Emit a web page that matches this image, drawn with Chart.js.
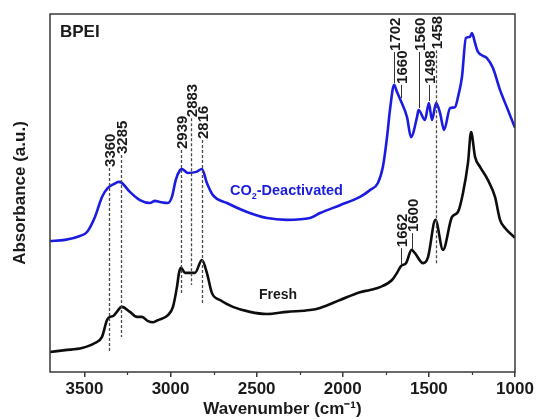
<!DOCTYPE html>
<html>
<head>
<meta charset="utf-8">
<script src="https://cdn.jsdelivr.net/npm/chart.js@4.4.1/dist/chart.umd.min.js"></script>
<style>
  html, body { margin: 0; padding: 0; background: #ffffff; }
  #wrap { width: 536px; height: 420px; }
</style>
</head>
<body>
<div id="wrap"><canvas id="ftir" width="536" height="420"></canvas></div>
<script>
// FTIR spectra of BPEI: fresh sorbent vs. CO2-deactivated sorbent (absorbance, arbitrary units)
const deactWn = [3700, 3613, 3526, 3485, 3439, 3398, 3364, 3330, 3300, 3285, 3236, 3178, 3120, 3090, 3062, 3015,
  2992, 2970, 2945, 2935, 2899, 2850, 2818, 2789, 2754, 2672, 2556, 2440, 2324, 2190, 2132, 2016, 1900, 1842,
  1796, 1767, 1743, 1726, 1702, 1685, 1660, 1627, 1604, 1569, 1560, 1523, 1500, 1482, 1458, 1435, 1412, 1377,
  1348, 1331, 1308, 1285, 1261, 1250, 1232, 1215, 1163, 1128, 1087, 1041, 1000];
const deactAbs = [36.6, 36.9, 38.0, 39.1, 43.3, 48.9, 51.4, 52.5, 53.1, 52.9, 50.3, 48.0, 47.2, 47.8, 47.5, 47.2,
  48.9, 53.6, 56.4, 56.7, 55.6, 55.9, 56.7, 52.8, 49.4, 47.2, 44.7, 43.0, 42.5, 43.0, 44.4, 46.6, 48.9, 50.8,
  52.8, 57.3, 65.6, 73.2, 80.2, 78.2, 75.4, 71.2, 65.6, 71.2, 73.2, 70.4, 75.1, 70.4, 75.1, 72.3, 67.6, 73.7,
  74.0, 76.8, 82.4, 93.3, 93.6, 94.7, 91.9, 89.4, 87.7, 84.9, 78.8, 73.2, 68.2];

const freshWn = [3700, 3613, 3514, 3439, 3398, 3369, 3352, 3335, 3282, 3236, 3195, 3166, 3131, 3100, 3073, 3015,
  2986, 2963, 2950, 2939, 2916, 2881, 2858, 2818, 2789, 2760, 2713, 2638, 2539, 2440, 2324, 2190, 2132, 2016,
  1900, 1842, 1784, 1714, 1685, 1662, 1633, 1600, 1581, 1534, 1505, 1462, 1418, 1366, 1331, 1302, 1273, 1255,
  1232, 1203, 1157, 1116, 1087, 1058, 1000];
const freshAbs = [5.6, 6.1, 6.7, 8.1, 9.8, 14.5, 15.4, 15.6, 18.2, 16.8, 15.4, 15.4, 14.2, 13.9, 14.5, 15.9,
  18.2, 23.7, 27.9, 29.1, 27.7, 27.7, 27.7, 31.3, 27.7, 22.1, 20.1, 18.2, 16.8, 16.2, 16.8, 17.3, 17.9, 20.1,
  22.3, 22.9, 23.7, 25.7, 27.7, 29.6, 30.4, 34.1, 33.2, 30.4, 32.1, 42.5, 34.1, 43.3, 44.7, 50.0, 58.4, 67.0,
  60.1, 57.3, 53.6, 48.9, 42.5, 40.2, 37.5];

// Band assignments marked on the spectra
const peakLabels = ['3360', '3285', '2939', '2883', '2816', '1458', '1702', '1660', '1560', '1498', '1662', '1600'];
const peakWn = [3360, 3285, 2939, 2883, 2816, 1458, 1702, 1660, 1560, 1498, 1662, 1600];

const xTickValues = [3500, 3000, 2500, 2000, 1500, 1000];
const xMinorTickValues = [3250, 2750, 2250, 1750, 1250];

// Leader geometry for each band marker (absorbance units), kept apart from the data
const peakLeaders = [
  { top: 57.0, bottom: 5.3, dashed: true },
  { top: 60.6, bottom: 9.8, dashed: true },
  { top: 62.0, bottom: 22.1, dashed: true },
  { top: 70.9, bottom: 24.3, dashed: true },
  { top: 64.8, bottom: 19.3, dashed: true },
  { top: 89.9, bottom: 30.4, dashed: true },
  { top: 89.4, bottom: 80.7, dashed: false },
  { top: 80.2, bottom: 76.5, dashed: false },
  { top: 89.4, bottom: 73.7, dashed: false },
  { top: 80.2, bottom: 75.7, dashed: false },
  { top: 34.6, bottom: 29.9, dashed: false },
  { top: 38.8, bottom: 34.4, dashed: false }
];

const BLUE = '#1c1ce0';
const INK = '#1a1a1a';
const FONT = "'Liberation Sans', Arial, Helvetica, sans-serif";

const toPoints = (xs, ys) => xs.map((x, i) => ({ x: x, y: ys[i] }));

const decorations = {
  id: 'decorations',
  afterDatasetsDraw(chart) {
    const { ctx, chartArea: a, scales } = chart;
    const xs = scales.x, ys = scales.y;

    // band markers
    peakWn.forEach((wn, i) => {
      const px = Math.round(xs.getPixelForValue(wn)) + 0.5;
      const lead = peakLeaders[i];
      const yTop = ys.getPixelForValue(lead.top);
      const yBot = ys.getPixelForValue(lead.bottom);
      ctx.save();
      ctx.strokeStyle = lead.dashed ? '#4a4a4a' : '#333333';
      ctx.lineWidth = lead.dashed ? 1.3 : 1;
      ctx.setLineDash(lead.dashed ? [3, 2] : []);
      ctx.beginPath();
      ctx.moveTo(px, yTop);
      ctx.lineTo(px, yBot);
      ctx.stroke();
      ctx.restore();

      ctx.save();
      ctx.translate(px + 0.5, yTop - 1);
      ctx.rotate(-Math.PI / 2);
      ctx.font = 'bold 15px ' + FONT;
      ctx.fillStyle = INK;
      ctx.textAlign = 'left';
      ctx.textBaseline = 'middle';
      ctx.fillText(peakLabels[i], 0, 1);
      ctx.restore();
    });

    // series names
    ctx.save();
    ctx.textBaseline = 'alphabetic';
    let tx = xs.getPixelForValue(2655);
    const ty = ys.getPixelForValue(49.4);
    ctx.fillStyle = BLUE;
    ctx.font = 'bold 14.5px ' + FONT;
    ctx.fillText('CO', tx, ty);
    tx += ctx.measureText('CO').width;
    ctx.font = 'bold 9px ' + FONT;
    ctx.fillText('2', tx, ty + 4);
    tx += ctx.measureText('2').width;
    ctx.font = 'bold 14.5px ' + FONT;
    ctx.fillText('-Deactivated', tx, ty);

    ctx.fillStyle = INK;
    ctx.textAlign = 'center';
    ctx.font = 'bold 14px ' + FONT;
    ctx.fillText('Fresh', xs.getPixelForValue(2376), ys.getPixelForValue(20.4));

    ctx.textAlign = 'left';
    ctx.font = 'bold 17px ' + FONT;
    ctx.fillText('BPEI', a.left + 10, a.top + 23);
    ctx.restore();
  },
  afterDraw(chart) {
    const { ctx, chartArea: a, scales } = chart;
    ctx.save();
    ctx.strokeStyle = '#3a3a3a';
    ctx.lineWidth = 1.5;
    ctx.strokeRect(a.left, a.top, a.right - a.left, a.bottom - a.top);
    // minor ticks between labelled ones
    ctx.lineWidth = 1.2;
    xMinorTickValues.forEach((v) => {
      const px = Math.round(scales.x.getPixelForValue(v)) + 0.5;
      ctx.beginPath();
      ctx.moveTo(px, a.bottom);
      ctx.lineTo(px, a.bottom + 3);
      ctx.stroke();
    });
    ctx.restore();
  }
};

new Chart(document.getElementById('ftir'), {
  type: 'line',
  data: {
    datasets: [
      {
        label: 'CO2-Deactivated',
        data: toPoints(deactWn, deactAbs),
        borderColor: BLUE,
        borderWidth: 2.6,
        pointRadius: 0,
        cubicInterpolationMode: 'monotone',
        fill: false
      },
      {
        label: 'Fresh',
        data: toPoints(freshWn, freshAbs),
        borderColor: '#0d0d0d',
        borderWidth: 2.6,
        pointRadius: 0,
        cubicInterpolationMode: 'monotone',
        fill: false
      }
    ]
  },
  options: {
    responsive: false,
    animation: false,
    devicePixelRatio: 1,
    layout: { padding: { left: 0, right: 21, top: 14, bottom: 0 } },
    plugins: { legend: { display: false }, tooltip: { enabled: false } },
    scales: {
      x: {
        type: 'linear',
        reverse: true,
        min: 1000,
        max: 3700,
        afterBuildTicks(scale) { scale.ticks = xTickValues.map((v) => ({ value: v })); },
        afterFit(scale) { scale.height = 48; },
        ticks: {
          autoSkip: false,
          maxRotation: 0,
          padding: 2,
          color: INK,
          font: { family: FONT, size: 17, weight: 'bold' },
          callback: (v) => String(v)
        },
        grid: {
          display: true,
          drawOnChartArea: false,
          drawTicks: true,
          tickLength: 5,
          lineWidth: 1.5,
          color: '#3a3a3a'
        },
        border: { display: false },
        title: {
          display: true,
          text: 'Wavenumber (cm\u207B\u00B9)',
          color: INK,
          font: { family: FONT, size: 17, weight: 'bold' },
          padding: { top: 0, bottom: 0 }
        }
      },
      y: {
        min: 0,
        max: 100,
        afterFit(scale) { scale.width = 50; },
        ticks: { display: false },
        grid: { display: false },
        border: { display: false },
        title: {
          display: true,
          text: 'Absorbance (a.u.)',
          color: INK,
          font: { family: FONT, size: 17, weight: 'bold' },
          padding: { top: 10, bottom: 0 }
        }
      }
    }
  },
  plugins: [decorations]
});
</script>
</body>
</html>
